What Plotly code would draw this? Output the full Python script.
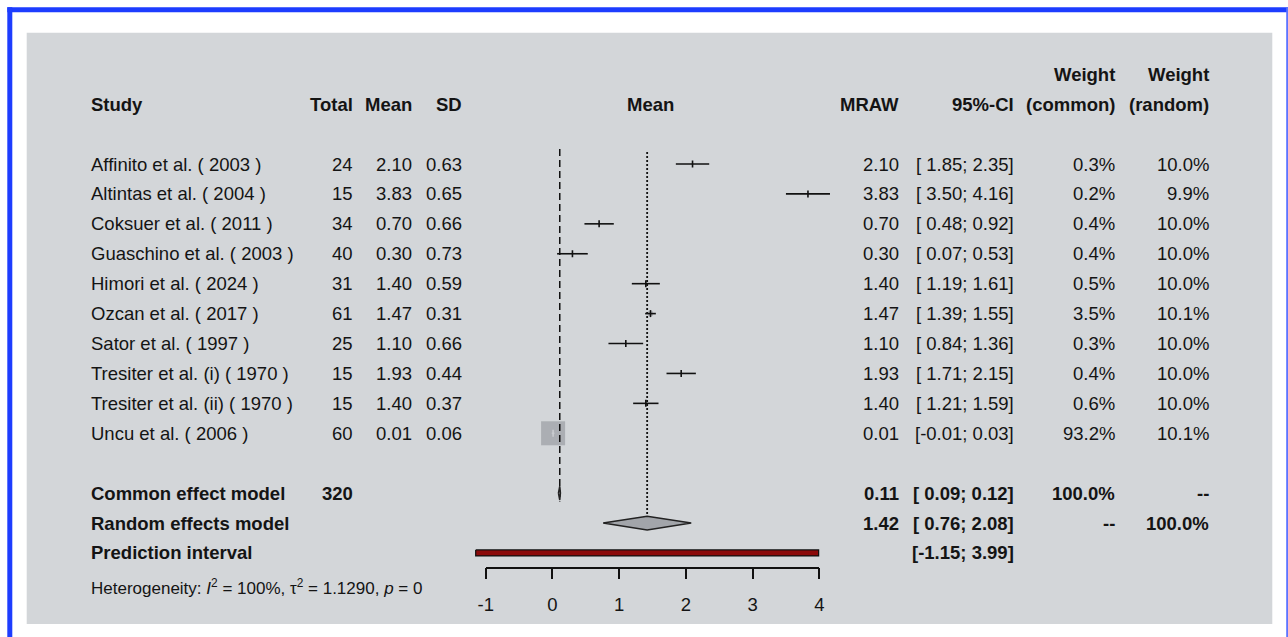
import math
import plotly.graph_objects as go

# ---------------- data ----------------
studies = ["Affinito et al. ( 2003 )", "Altintas et al. ( 2004 )", "Coksuer et al. ( 2011 )",
           "Guaschino et al. ( 2003 )", "Himori et al. ( 2024 )", "Ozcan et al. ( 2017 )",
           "Sator et al. ( 1997 )", "Tresiter et al. (i) ( 1970 )", "Tresiter et al. (ii) ( 1970 )",
           "Uncu et al. ( 2006 )"]
totals = [24, 15, 34, 40, 31, 61, 25, 15, 15, 60]
means = [2.10, 3.83, 0.70, 0.30, 1.40, 1.47, 1.10, 1.93, 1.40, 0.01]
sds = [0.63, 0.65, 0.66, 0.73, 0.59, 0.31, 0.66, 0.44, 0.37, 0.06]
ci_low = [1.85, 3.50, 0.48, 0.07, 1.19, 1.39, 0.84, 1.71, 1.21, -0.01]
ci_high = [2.35, 4.16, 0.92, 0.53, 1.61, 1.55, 1.36, 2.15, 1.59, 0.03]
w_common = [0.3, 0.2, 0.4, 0.4, 0.5, 3.5, 0.3, 0.4, 0.6, 93.2]
w_random = [10.0, 9.9, 10.0, 10.0, 10.0, 10.1, 10.0, 10.0, 10.0, 10.1]

summary_labels = ["Common effect model", "Random effects model", "Prediction interval"]
summary_te = [0.11, 1.42, None]
summary_lo = [0.09, 0.76, -1.15]
summary_hi = [0.12, 2.08, 3.99]
summary_w_common = ["100.0%", "--", ""]
summary_w_random = ["--", "100.0%", ""]
total_n = 320
het_i2 = "100%"
het_tau2 = "1.1290"
het_p = "0"
x_ticks = [-1, 0, 1, 2, 3, 4]

# ---------------- layout constants ----------------
W, H = 1288, 637
FONT = "Liberation Sans, Arial, Helvetica, sans-serif"
FS = 18.5
TXT = "#141414"
PANEL = "#d3d6d9"
BLUE = "#1d3dff"
SQ_COL = "#9a9da3"

AX_L, AX_R = 485.7, 819.3          # pixel columns of the first / last tick
PXU = (AX_R - AX_L) / (x_ticks[-1] - x_ticks[0])
ROW1, STEP = 164.0, 29.92          # pixel of first study row, row spacing
AXIS_Y_PX = 567.5
DATA_L, DATA_R = 400, 880

study_rows = list(range(1, len(studies) + 1))
row_common, row_random, row_pred, row_het = 12, 13, 14, 15
row_head1, row_head2 = -2, -1

y_range = [1 + (H - ROW1) / STEP, 1 - ROW1 / STEP]
x_range = [x_ticks[0] - (AX_L - DATA_L) / PXU, x_ticks[-1] + (DATA_R - AX_R) / PXU]

COL_STUDY, COL_TOTAL, COL_MEAN, COL_SD = 89, 355, 414, 464
COL_MRAW, COL_CI, COL_WC, COL_WR = 901, 1016, 1117, 1211

fig = go.Figure()

# ---- study squares ----
max_w = max(w_common)
sq = [24 * math.sqrt(w / max_w) for w in w_common]
inside = []
for m, lo, hi, s in zip(means, ci_low, ci_high, sq):
    half = s / 2 / PXU
    inside.append((m - lo) < half and (hi - m) < half)

fig.add_trace(go.Scatter(x=means, y=study_rows, mode="markers", xaxis="x", yaxis="y",
                         marker=dict(symbol="square", size=sq, color=SQ_COL, line=dict(width=0)),
                         hoverinfo="skip", showlegend=False))

# ---- CI lines ----
for flag, col in [(False, "#111111"), (True, "#c9cbcf")]:
    xs, ys = [], []
    for lo, hi, r, f in zip(ci_low, ci_high, study_rows, inside):
        if f == flag:
            xs += [lo, hi, None]
            ys += [r, r, None]
    fig.add_trace(go.Scatter(x=xs, y=ys, mode="lines", xaxis="x", yaxis="y",
                             line=dict(color=col, width=1.6), hoverinfo="skip", showlegend=False))

fig.add_trace(go.Scatter(x=means, y=study_rows, mode="markers", xaxis="x", yaxis="y",
                         marker=dict(symbol="line-ns", size=5,
                                     line=dict(width=1.6, color=["#c9cbcf" if f else "#111111" for f in inside])),
                         hoverinfo="skip", showlegend=False))

# ---- reference lines ----
fig.add_trace(go.Scatter(x=[summary_te[0]] * 2, y=[0.5, row_common + 0.28], mode="lines",
                         xaxis="x", yaxis="y", line=dict(color="#111111", width=1.5, dash="7px,4px"),
                         hoverinfo="skip", showlegend=False))
fig.add_trace(go.Scatter(x=[summary_te[1]] * 2, y=[0.6, row_random - 0.23], mode="lines",
                         xaxis="x", yaxis="y", line=dict(color="#111111", width=1.8, dash="2px,2px"),
                         hoverinfo="skip", showlegend=False))

# ---- diamonds ----
DH = 0.23
for te, lo, hi, r in [(summary_te[0], summary_lo[0], summary_hi[0], row_common),
                      (summary_te[1], summary_lo[1], summary_hi[1], row_random)]:
    fig.add_trace(go.Scatter(x=[lo, te, hi, te, lo], y=[r, r - DH, r, r + DH, r], mode="lines",
                             fill="toself", fillcolor="#a2a5aa", xaxis="x", yaxis="y",
                             line=dict(color="#222222", width=1.5), hoverinfo="skip", showlegend=False))

# ---- prediction interval ----
PH = 0.1
plo, phi = summary_lo[2], summary_hi[2]
fig.add_trace(go.Scatter(x=[plo, phi, phi, plo, plo],
                         y=[row_pred - PH, row_pred - PH, row_pred + PH, row_pred + PH, row_pred - PH],
                         mode="lines", fill="toself", fillcolor="#8b0a0a", xaxis="x", yaxis="y",
                         line=dict(color="#111111", width=1.2), hoverinfo="skip", showlegend=False))

# invisible trace to realise the visible axis
fig.add_trace(go.Scatter(x=x_ticks, y=[row_pred] * len(x_ticks), mode="markers", xaxis="x2", yaxis="y",
                         marker=dict(opacity=0), hoverinfo="skip", showlegend=False))

# ---- text ----
ann = []


def txt(xpx, row, s, anchor="left", size=FS, yshift=0, xref="paper", xval=None):
    ann.append(dict(x=(xpx / W) if xval is None else xval, xref=xref, y=row, yref="y", text=s,
                    showarrow=False, xanchor=anchor, yanchor="middle", yshift=yshift,
                    font=dict(family=FONT, size=size, color=TXT)))


def ci(lo, hi):
    return f"[{lo:5.2f}; {hi:.2f}]"


# headers
txt(COL_WC, row_head1, "<b>Weight</b>", "right")
txt(COL_WR, row_head1, "<b>Weight</b>", "right")
txt(COL_STUDY, row_head2, "<b>Study</b>")
txt(COL_TOTAL, row_head2, "<b>Total</b>", "right")
txt(COL_MEAN, row_head2, "<b>Mean</b>", "right")
txt(COL_SD, row_head2, "<b>SD</b>", "right")
txt(0, row_head2, "<b>Mean</b>", "center", xref="x2", xval=(x_ticks[0] + x_ticks[-1]) / 2 - 0.03)
txt(COL_MRAW, row_head2, "<b>MRAW</b>", "right")
txt(COL_CI, row_head2, "<b>95%-CI</b>", "right")
txt(COL_WC, row_head2, "<b>(common)</b>", "right")
txt(COL_WR, row_head2, "<b>(random)</b>", "right")

for i, r in enumerate(study_rows):
    txt(COL_STUDY, r, studies[i])
    txt(COL_TOTAL, r, f"{totals[i]}", "right")
    txt(COL_MEAN, r, f"{means[i]:.2f}", "right")
    txt(COL_SD, r, f"{sds[i]:.2f}", "right")
    txt(COL_MRAW, r, f"{means[i]:.2f}", "right")
    txt(COL_CI, r, ci(ci_low[i], ci_high[i]), "right")
    txt(COL_WC, r, f"{w_common[i]:.1f}%", "right")
    txt(COL_WR, r, f"{w_random[i]:.1f}%", "right")

srows = [row_common, row_random, row_pred]
for k, r in enumerate(srows):
    txt(COL_STUDY, r, f"<b>{summary_labels[k]}</b>")
    if summary_te[k] is not None:
        txt(COL_MRAW, r, f"<b>{summary_te[k]:.2f}</b>", "right")
    txt(COL_CI, r, f"<b>{ci(summary_lo[k], summary_hi[k])}</b>", "right")
    if summary_w_common[k]:
        txt(COL_WC, r, f"<b>{summary_w_common[k]}</b>", "right")
    if summary_w_random[k]:
        txt(COL_WR, r, f"<b>{summary_w_random[k]}</b>", "right")
txt(COL_TOTAL, row_common, f"<b>{total_n}</b>", "right")

txt(COL_STUDY, row_het,
    f"Heterogeneity: <i>I</i><sup>2</sup> = {het_i2}, τ<sup>2</sup> = {het_tau2}, <i>p</i> = {het_p}",
    size=17, yshift=-4)

# ---- frame & panel ----
shapes = [
    dict(type="rect", xref="paper", yref="paper", x0=26.7 / W, x1=1272.3 / W, y0=1 - 624 / H,
         y1=1 - 32.7 / H, fillcolor=PANEL, line=dict(width=0), layer="below"),
    dict(type="rect", xref="paper", yref="paper", x0=7.3 / W, x1=1, y0=1 - 12.3 / H, y1=1 - 7.3 / H,
         fillcolor=BLUE, line=dict(width=0), layer="below"),
    dict(type="rect", xref="paper", yref="paper", x0=7.3 / W, x1=12.3 / W, y0=0, y1=1 - 7.3 / H,
         fillcolor=BLUE, line=dict(width=0), layer="below"),
    dict(type="rect", xref="paper", yref="paper", x0=1286.2 / W, x1=1, y0=0, y1=1 - 7.3 / H,
         fillcolor="#5c74ff", line=dict(width=0), layer="below"),
]

fig.update_layout(
    width=W, height=H, margin=dict(l=0, r=0, t=0, b=0, pad=0, autoexpand=False),
    paper_bgcolor="white", plot_bgcolor="rgba(0,0,0,0)",
    showlegend=False, annotations=ann, shapes=shapes,
    xaxis=dict(domain=[DATA_L / W, DATA_R / W], range=x_range, visible=False, fixedrange=True,
               automargin=False),
    xaxis2=dict(domain=[AX_L / W, AX_R / W], range=[x_ticks[0], x_ticks[-1]], anchor="free",
                position=1 - AXIS_Y_PX / H, tickvals=x_ticks, ticktext=[str(t) for t in x_ticks],
                ticks="outside", ticklen=11, tickwidth=1.5, tickcolor="#111111",
                showline=True, linewidth=1.5, linecolor="#111111", showgrid=False, zeroline=False,
                tickfont=dict(family=FONT, size=FS, color=TXT), ticklabelstandoff=10, fixedrange=True,
                automargin=False),
    yaxis=dict(domain=[0, 1], range=y_range, visible=False, fixedrange=True, automargin=False),
)

fig.write_html(
    "out.html",
    config={"displayModeBar": False},
    post_script="document.body.style.margin='0px';document.body.style.padding='0px';"
                "document.documentElement.style.overflow='hidden';document.body.style.overflow='hidden';",
)
